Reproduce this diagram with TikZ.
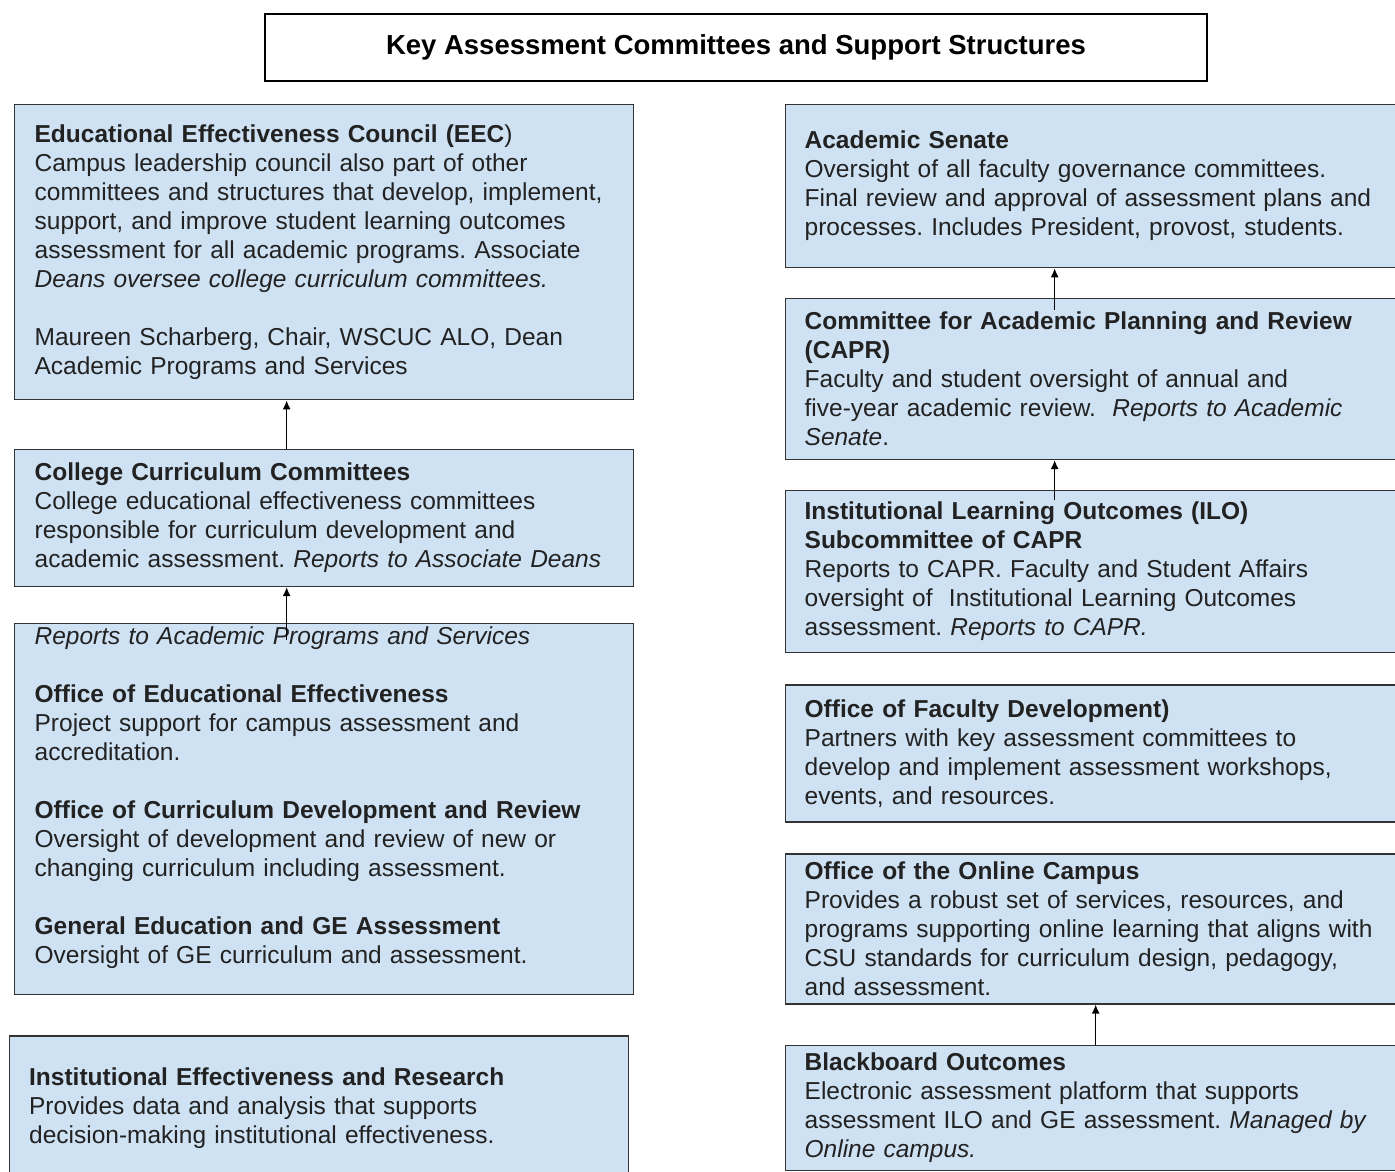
\documentclass[tikz,border=0pt]{standalone}
\usepackage{fontspec}
\setmainfont{Liberation Sans}
\usetikzlibrary{positioning, arrows.meta}
\definecolor{boxblue}{RGB}{207,226,243}
\definecolor{inkgray}{RGB}{34,34,34}
\newcommand{\boxfont}{\fontsize{24.5}{29}\selectfont\frenchspacing\hyphenpenalty 10000\relax\exhyphenpenalty 10000\relax}
\tikzstyle{titlebox} = [rectangle, draw=black, line width=1.5pt, minimum width=942pt, minimum height=67pt, font=\fontsize{27.5}{32}\selectfont\bfseries]
\tikzstyle{box} = [rectangle, draw=black!80, line width=1.3pt, fill=boxblue, text=inkgray, align=left, inner ysep=2pt, font=\boxfont]
\tikzstyle{leftbox} = [box, inner xsep=20pt, text width=579pt]
\tikzstyle{rightbox} = [box, inner xsep=19pt, text width=582pt]
\tikzstyle{arrow} = [line width=1.5pt, -{Latex[length=9pt, width=8pt]}]

\begin{document}
\begin{tikzpicture}[x=1pt, y=1pt]
  \useasboundingbox (0,0) rectangle (1395,-1172);
  \clip (0,0) rectangle (1395,-1172);

  % Title
  \node (title) [titlebox] at (736,-47.5) {Key Assessment Committees and Support Structures};

  % Left column
  \node (eec) [leftbox, anchor=north west, minimum height=295pt] at (14,-104) {\textbf{Educational Effectiveness Council (EEC})\\
    Campus leadership council also part of other\\
    committees and structures that develop, implement,\\
    support, and improve student learning outcomes\\
    assessment for all academic programs. Associate\\
    \textit{Deans oversee college curriculum committees.}\\[29pt]
    Maureen Scharberg, Chair, WSCUC ALO, Dean\\
    Academic Programs and Services};
  \node (ccc) [leftbox, below=48.5pt of eec, minimum height=137pt] {\textbf{College Curriculum Committees}\\
    College educational effectiveness committees\\
    responsible for curriculum development and\\
    academic assessment. \textit{Reports to Associate Deans}};
  \node (office) [leftbox, below=35.5pt of ccc, minimum height=371pt] {\textit{Reports to Academic Programs and Services}\\[29pt]
    \textbf{Office of Educational Effectiveness}\\
    Project support for campus assessment and\\
    accreditation.\\[29pt]
    \textbf{Office of Curriculum Development and Review}\\
    Oversight of development and review of new or\\
    changing curriculum including assessment.\\[29pt]
    \textbf{General Education and GE Assessment}\\
    Oversight of GE curriculum and assessment.\rule[-28pt]{0pt}{28pt}};
  \node (ier) [leftbox, below=40.5pt of office, xshift=-5.5pt, minimum height=144pt] {\textbf{Institutional Effectiveness and Research}\\
    Provides data and analysis that supports\\
    decision-making institutional effectiveness.};

  % Right column
  \node (senate) [rightbox, anchor=north west, minimum height=163pt] at (785,-104) {\textbf{Academic Senate}\\
    Oversight of all faculty governance committees.\\
    Final review and approval of assessment plans and\\
    processes. Includes President, provost, students.};
  \node (capr) [rightbox, below=29.5pt of senate, minimum height=161pt] {\textbf{Committee for Academic Planning and Review}\\
    \textbf{(CAPR)}\\
    Faculty and student oversight of annual and\\
    five-year academic review.\ \ \textit{Reports to Academic}\\
    \textit{Senate}.};
  \node (ilo) [rightbox, below=29.5pt of capr, minimum height=162pt] {\textbf{Institutional Learning Outcomes (ILO)}\\
    \textbf{Subcommittee of CAPR}\\
    Reports to CAPR. Faculty and Student Affairs\\
    oversight of\ \ Institutional Learning Outcomes\\
    assessment. \textit{Reports to CAPR.}};
  \node (facdev) [rightbox, below=31.5pt of ilo, minimum height=137pt] {\textbf{Office of Faculty Development)}\\
    Partners with key assessment committees to\\
    develop and implement assessment workshops,\\
    events, and resources.};
  \node (online) [rightbox, below=30.5pt of facdev, minimum height=150pt] {\textbf{Office of the Online Campus}\\
    Provides a robust set of services, resources, and\\
    programs supporting online learning that aligns with\\
    CSU standards for curriculum design, pedagogy,\\
    and assessment.};
  \node (bb) [rightbox, below=40.5pt of online, minimum height=125pt] {\textbf{Blackboard Outcomes}\\
    Electronic assessment platform that supports\\
    assessment ILO and GE assessment. \textit{Managed by}\\
    \textit{Online campus.}};

  % Reporting arrows
  \draw[arrow] ([xshift=-37.5pt]ccc.north) -- ([xshift=-37.5pt]eec.south);
  \draw[arrow] ([xshift=-37.5pt, yshift=-17pt]office.north) -- ([xshift=-37.5pt]ccc.south);
  \draw[arrow] ([xshift=-41pt, yshift=-12pt]capr.north) -- ([xshift=-41pt]senate.south);
  \draw[arrow] ([xshift=-41pt, yshift=-10pt]ilo.north) -- ([xshift=-41pt]capr.south);
  \draw[arrow] (bb.north) -- (online.south);

\end{tikzpicture}
\end{document}
